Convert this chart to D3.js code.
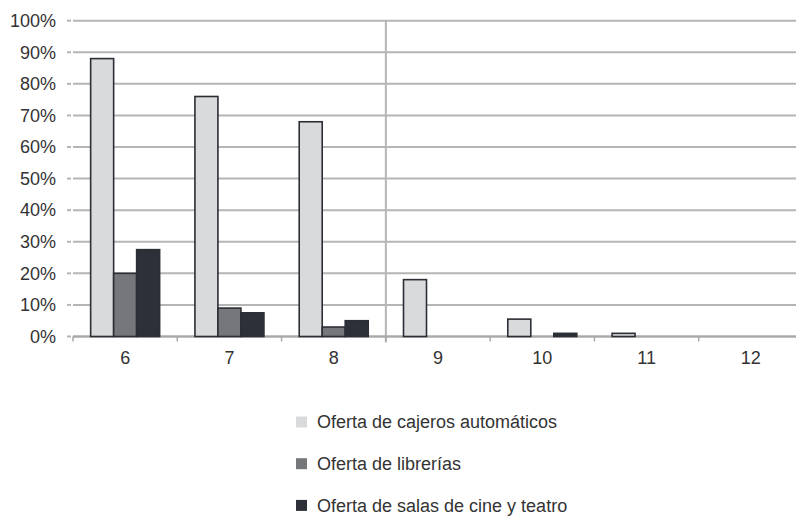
<!DOCTYPE html>
<html>
<head>
<meta charset="utf-8">
<script src="https://cdn.jsdelivr.net/npm/d3@7"></script>
<style>
  html, body { margin: 0; padding: 0; background: #fff; }
  svg { display: block; font-family: "Liberation Sans", Arial, sans-serif; }
</style>
</head>
<body>
<svg id="chart" width="796" height="516"></svg>
<script>
// Categories along the x axis
const categories = ["6", "7", "8", "9", "10", "11", "12"];
// Series names (legend order)
const seriesNames = [
  "Oferta de cajeros automáticos",
  "Oferta de librerías",
  "Oferta de salas de cine y teatro"
];
// Share (%) per category, one array per series
const cajeros = [88, 76, 68, 18, 5.5, 1, 0];
const librerias = [20, 9, 3, 0, 0, 0, 0];
const salas = [27.5, 7.5, 5, 0, 1, 0, 0];
const yTicks = [0, 10, 20, 30, 40, 50, 60, 70, 80, 90, 100];

const seriesValues = [cajeros, librerias, salas];
const colors = ["#d9dadc", "#76777b", "#2d3038"];

const svg = d3.select("#chart");
const plotLeft = 73, plotRight = 803, plotTop = 20.7, plotBottom = 336.5;

const x = d3.scaleBand().domain(categories).range([plotLeft, plotRight]).paddingInner(0).paddingOuter(0);
const y = d3.scaleLinear().domain([0, 100]).range([plotBottom, plotTop]);
const groupWidth = 69;
const xs = d3.scaleBand().domain(d3.range(seriesNames.length)).range([0, groupWidth]);

// Horizontal gridlines with small tick stubs to the left
const grid = svg.append("g");
grid.selectAll("line.grid").data(yTicks).join("line")
  .attr("class", "grid")
  .attr("x1", plotLeft).attr("x2", 796)
  .attr("y1", d => y(d)).attr("y2", d => y(d))
  .attr("stroke", "#b5b5b5").attr("stroke-width", 2);
grid.selectAll("line.stub").data(yTicks).join("line")
  .attr("class", "stub")
  .attr("x1", 67).attr("x2", 71)
  .attr("y1", d => y(d)).attr("y2", d => y(d))
  .attr("stroke", "#b5b5b5").attr("stroke-width", 2);

// Vertical separator between 8 and 9
svg.append("line")
  .attr("x1", x("9")).attr("x2", x("9"))
  .attr("y1", plotTop).attr("y2", plotBottom + 6)
  .attr("stroke", "#b5b5b5").attr("stroke-width", 2);

// Y axis labels
svg.append("g").selectAll("text").data(yTicks).join("text")
  .attr("x", 56).attr("y", d => y(d))
  .attr("dy", "0.35em")
  .attr("text-anchor", "end")
  .attr("font-size", 18)
  .attr("fill", "#333")
  .text(d => d + "%");

// X axis with category boundary ticks
const xAxis = d3.axisBottom(x).tickSize(0).tickPadding(15);
const ax = svg.append("g").attr("transform", `translate(0,${plotBottom})`).call(xAxis);
ax.select(".domain").remove();
ax.selectAll("text").attr("font-size", 18).attr("fill", "#333").attr("font-family", "Liberation Sans, Arial, sans-serif");
svg.append("line")
  .attr("x1", plotLeft).attr("x2", 796).attr("y1", plotBottom).attr("y2", plotBottom)
  .attr("stroke", "#a8a8a8").attr("stroke-width", 2);
svg.append("g").selectAll("line").data(categories).join("line")
  .attr("x1", d => x(d)).attr("x2", d => x(d))
  .attr("y1", plotBottom).attr("y2", plotBottom + 5)
  .attr("stroke", "#a8a8a8").attr("stroke-width", 1.5);

// Bars
const bars = [];
categories.forEach((c, i) => {
  seriesValues.forEach((vals, s) => {
    if (vals[i] > 0) bars.push({ c, s, v: vals[i] });
  });
});
svg.append("g").selectAll("rect").data(bars).join("rect")
  .attr("x", d => x(d.c) + (x.bandwidth() - groupWidth) / 2 + xs(d.s))
  .attr("width", xs.bandwidth())
  .attr("y", d => y(d.v))
  .attr("height", d => y(0) - y(d.v))
  .attr("fill", d => colors[d.s])
  .attr("stroke", "#2b2e35").attr("stroke-width", 1.6);

// Legend
const legend = svg.append("g").selectAll("g").data(seriesNames).join("g")
  .attr("transform", (d, i) => `translate(296,${422 + i * 41.7})`);
legend.append("rect")
  .attr("x", 0).attr("y", -5.5).attr("width", 11).attr("height", 11)
  .attr("fill", (d, i) => colors[i]);
legend.append("text")
  .attr("x", 21).attr("y", 0).attr("dy", "0.35em")
  .attr("font-size", 18).attr("fill", "#333")
  .text(d => d);
</script>
</body>
</html>
